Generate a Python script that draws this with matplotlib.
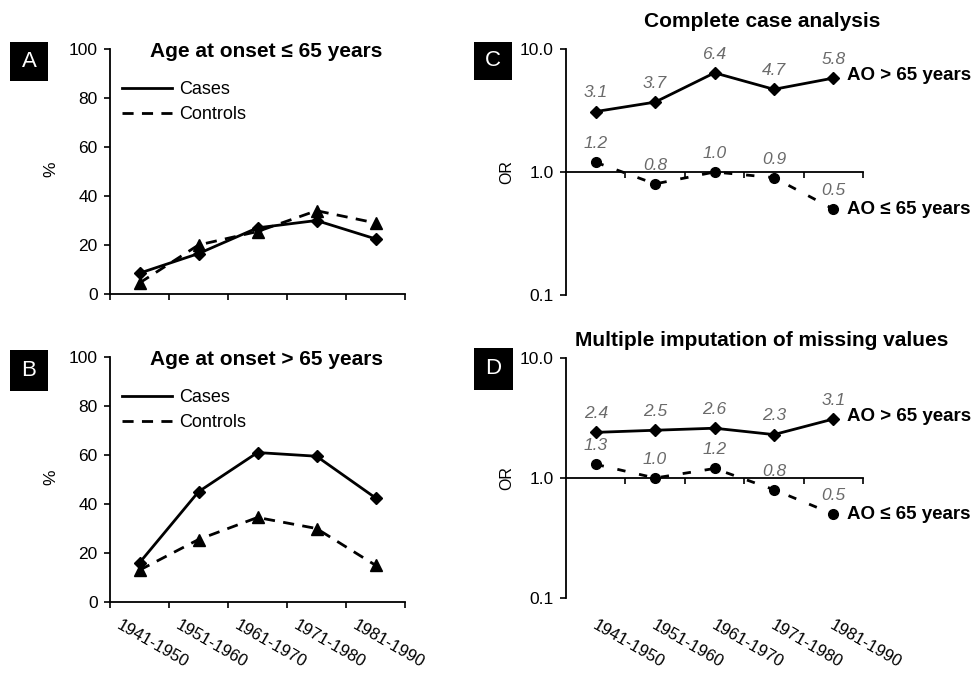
import matplotlib
matplotlib.use("Agg")
import matplotlib.pyplot as plt
from matplotlib.patches import Rectangle
import numpy as np

plt.rcParams['font.family'] = ['Liberation Sans', 'DejaVu Sans']

# data
periods = ['1941-1950', '1951-1960', '1961-1970', '1971-1980', '1981-1990']

a_cases = [8.5, 16.5, 27, 30, 22.5]
a_controls = [4.5, 20, 25.5, 34, 29]
b_cases = [16, 45, 61, 59.5, 42.5]
b_controls = [13, 25.5, 34.5, 30, 15]

c_over65 = [3.1, 3.7, 6.4, 4.7, 5.8]
c_under65 = [1.2, 0.8, 1.0, 0.9, 0.5]
d_over65 = [2.4, 2.5, 2.6, 2.3, 3.1]
d_under65 = [1.3, 1.0, 1.2, 0.8, 0.5]

W, H = 980, 673
fig = plt.figure(figsize=(W / 100, H / 100), dpi=100)
fig.patch.set_facecolor('white')


def px_axes(left, right, top, bottom):
    return fig.add_axes([left / W, (H - bottom) / H, (right - left) / W, (bottom - top) / H])


def panel_letter(letter, x0, x1, y0, y1):
    fig.patches.append(Rectangle((x0 / W, (H - y1) / H), (x1 - x0) / W, (y1 - y0) / H,
                                 transform=fig.transFigure, facecolor='black',
                                 edgecolor='none'))
    fig.text((x0 + x1) / 2 / W, (H - (y0 + y1) / 2) / H, letter, color='white',
             fontsize=16, ha='center', va='center')


x = np.arange(len(periods))
bounds = np.arange(len(periods) + 1) - 0.5


def pct_panel(ax, cases, controls, title, show_labels):
    ax.plot(x, cases, color='black', lw=2, marker='D', ms=6, label='Cases')
    ax.plot(x, controls, color='black', lw=2, ls=(0, (4, 3)), marker='^', ms=8,
            label='Controls')
    ax.set_xlim(-0.5, 4.5)
    ax.set_ylim(0, 100)
    ax.set_yticks([0, 20, 40, 60, 80, 100])
    ax.set_xticks(bounds)
    ax.set_xticklabels([])
    for s in ['top', 'right']:
        ax.spines[s].set_visible(False)
    ax.spines['left'].set_linewidth(1.3)
    ax.spines['bottom'].set_linewidth(1.3)
    ax.tick_params(axis='both', direction='out', length=4, width=1.2,
                   labelsize=12.5, pad=5)
    ax.text(-0.2, 0.51, '%', transform=ax.transAxes, rotation=90,
            ha='center', va='center', fontsize=12.5)
    ax.text(0.53, 0.99, title, transform=ax.transAxes, ha='center', va='center',
            fontsize=15, fontweight='bold')
    ax.legend(loc='upper left', bbox_to_anchor=(0.04, 0.87), frameon=False,
              handlelength=2.8, handletextpad=0.35, borderpad=0, borderaxespad=0,
              labelspacing=0.45, fontsize=13,
              handles=[plt.Line2D([], [], color='black', lw=2),
                       plt.Line2D([], [], color='black', lw=2, ls=(0, (4, 3)))],
              labels=['Cases', 'Controls'])
    if show_labels:
        trans = ax.get_xaxis_transform()
        for i, lab in enumerate(periods):
            ax.text(i - 0.3, -0.065, lab, transform=trans, rotation=-30,
                    rotation_mode='anchor', ha='left', va='top', fontsize=12)


def or_panel(ax, over, under, title, title_y, show_labels):
    ax.set_yscale('log')
    ax.plot(x, over, color='black', lw=2, marker='D', ms=6)
    ax.plot(x, under, color='black', lw=2, ls=(0, (3, 5)), marker='o', ms=7)
    ax.set_xlim(-0.5, 4.5)
    ax.set_ylim(0.1, 10)
    ax.set_yticks([0.1, 1, 10])
    ax.set_yticklabels(['0.1', '1.0', '10.0'])
    ax.minorticks_off()
    ax.set_xticks(bounds[1:])
    ax.set_xticklabels([])
    for s in ['top', 'right']:
        ax.spines[s].set_visible(False)
    ax.spines['bottom'].set_position(('data', 1.0))
    ax.spines['left'].set_linewidth(1.3)
    ax.spines['bottom'].set_linewidth(1.3)
    ax.tick_params(axis='both', direction='out', length=4, width=1.2,
                   labelsize=12.5, pad=5)
    ax.text(-0.2, 1.0, 'OR', transform=ax.get_yaxis_transform(), rotation=90,
            ha='center', va='center', fontsize=11.5)
    ax.text(0.66, title_y, title, transform=ax.transAxes, ha='center', va='center',
            fontsize=15, fontweight='bold')
    for vals in (over, under):
        for i, v in enumerate(vals):
            ax.annotate('%.1f' % v, (i, v), xytext=(0, 8), textcoords='offset points',
                        ha='center', va='bottom', fontsize=12.5, style='italic',
                        color='#6a6a6a')
    ax.annotate('AO > 65 years', (4, over[-1]), xytext=(10, 2),
                textcoords='offset points', ha='left', va='center', fontsize=13.5,
                fontweight='bold', annotation_clip=False)
    ax.annotate('AO \u2264 65 years', (4, under[-1]), xytext=(10, 0),
                textcoords='offset points', ha='left', va='center', fontsize=13.5,
                fontweight='bold', annotation_clip=False)
    if show_labels:
        trans = ax.get_xaxis_transform()
        for i, lab in enumerate(periods):
            ax.text(i + 0.03, -0.083, lab, transform=trans, rotation=-30,
                    rotation_mode='anchor', ha='left', va='top', fontsize=12)


axA = px_axes(110, 405, 49, 294)
pct_panel(axA, a_cases, a_controls, 'Age at onset \u2264 65 years', False)
axB = px_axes(110, 405, 357, 602)
pct_panel(axB, b_cases, b_controls, 'Age at onset > 65 years', True)
axC = px_axes(566, 863, 49, 295)
or_panel(axC, c_over65, c_under65, 'Complete case analysis', 1.11, False)
axD = px_axes(566, 863, 358, 598)
or_panel(axD, d_over65, d_under65, 'Multiple imputation of missing values', 1.075, True)

panel_letter('A', 10, 48, 42, 81)
panel_letter('B', 10, 48, 350, 391)
panel_letter('C', 474, 512, 42, 80)
panel_letter('D', 474, 513, 348, 390)

fig.savefig('out.png', dpi=100, facecolor='white')
